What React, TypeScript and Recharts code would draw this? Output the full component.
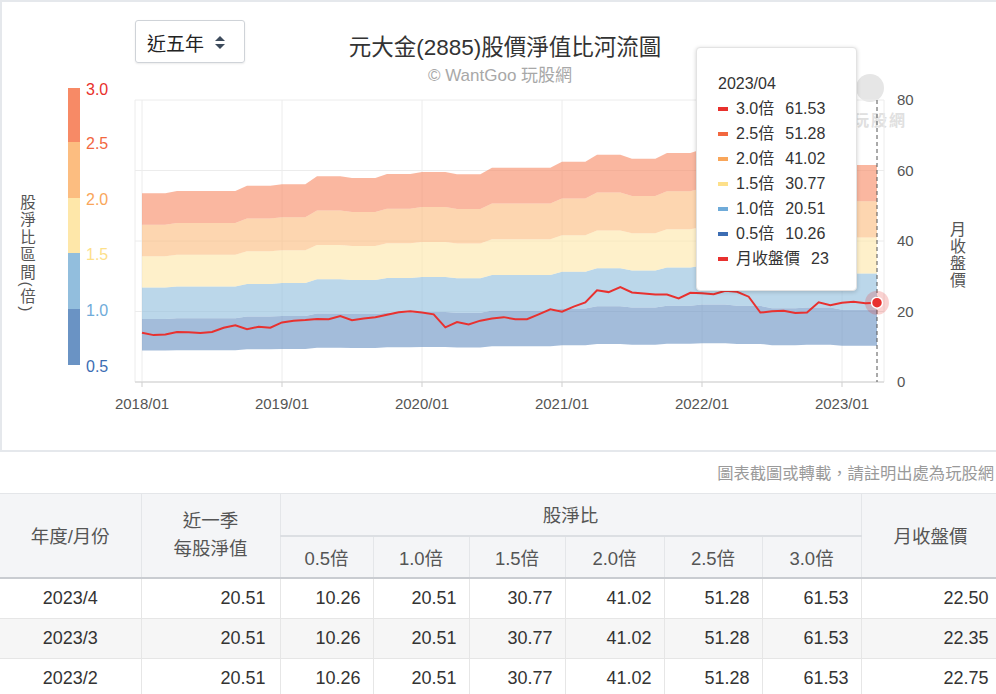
import React from 'react';
import {
  ComposedChart,
  Area,
  Line,
  XAxis,
  YAxis,
  CartesianGrid,
  Tooltip,
} from 'recharts';

// 2018/01 ~ 2023/04, one point per month
const START_YEAR = 2018;
const yearTicks = [0, 12, 24, 36, 48, 60];
const yearLabels = ['2018/01', '2019/01', '2020/01', '2021/01', '2022/01', '2023/01'];
const priceTicks = [0, 20, 40, 60, 80];

// 近一季每股淨值
const bvps = [
  17.85, 17.85, 17.85,
  18.05, 18.05, 18.05, 18.05, 18.05, 18.05,
  18.55, 18.55, 18.55,
  18.7, 18.7, 18.7,
  19.45, 19.45, 19.45,
  19.3, 19.3, 19.3,
  19.67, 19.67, 19.67,
  19.86, 19.86, 19.86,
  19.64, 19.64, 19.64,
  20.26, 20.26, 20.26, 20.26, 20.26, 20.26,
  20.83, 20.83, 20.83,
  21.5, 21.5, 21.5,
  21.1, 21.1, 21.1,
  21.65, 21.65, 21.65,
  22.0, 22.0, 22.0,
  21.6, 21.6, 21.6,
  20.9, 20.9, 20.9,
  21.1, 21.1, 21.1,
  20.51, 20.51, 20.51, 20.51,
];

// 月收盤價
const closePrice = [
  14.0, 13.3, 13.5, 14.2, 14.1, 13.9, 14.2, 15.4, 16.1, 14.95, 15.7, 15.4,
  16.9, 17.4, 17.6, 17.9, 17.8, 18.7, 17.5, 18.0, 18.4, 19.1, 19.8, 20.1,
  19.7, 19.2, 15.5, 17.0, 16.3, 17.4, 18.0, 18.4, 17.8, 17.8, 19.2, 20.6,
  19.95, 21.4, 22.6, 26.0, 25.5, 26.9, 25.4, 25.1, 24.8, 24.8, 23.7, 25.3,
  25.2, 24.9, 25.9, 25.6, 24.2, 19.7, 20.05, 20.2, 19.6, 19.7, 22.6, 21.75,
  22.5, 22.75, 22.35, 22.5,
];

const multiples = [0.5, 1.0, 1.5, 2.0, 2.5, 3.0];
// band fills, low -> high
const bandColors = ['#6a93c4', '#92bedd', '#fee7a9', '#fcbd80', '#f78a66'];
// legend label / tooltip marker colours for 0.5 .. 3.0
const multColors = ['#3c6db3', '#6fabd9', '#fde08a', '#f9a65a', '#f2673f', '#e8302c'];
const PRICE_COLOR = '#e8312f';

const FONT = '"Liberation Sans", "Noto Sans CJK TC", sans-serif';

const monthLabel = (i: number) =>
  `${START_YEAR + Math.floor(i / 12)}/${String((i % 12) + 1).padStart(2, '0')}`;

const fmt2 = (v: number) => (Math.round(v * 100 + 1e-6) / 100).toFixed(2);

const chartData = bvps.map((b, i) => ({
  m: i,
  month: monthLabel(i),
  bvps: b,
  base: b * 0.5,
  s1: b * 0.5,
  s2: b * 0.5,
  s3: b * 0.5,
  s4: b * 0.5,
  s5: b * 0.5,
  price: closePrice[i],
}));

const LAST = chartData.length - 1;

const RiverTooltip = ({ active, payload }: any) => {
  if (!active || !payload || !payload.length) return null;
  const d = payload[0].payload;
  const rows = [...multiples].reverse().map((k, idx) => ({
    label: `${k.toFixed(1)}倍`,
    value: fmt2(d.bvps * k),
    color: multColors[multiples.length - 1 - idx],
  }));
  return (
    <div
      style={{
        width: 138,
        height: 219,
        padding: '23px 0 0 21px',
        background: '#fff',
        border: '1px solid #e3e3e3',
        borderRadius: 4,
        boxShadow: '0 1px 4px rgba(0,0,0,0.18)',
        fontFamily: FONT,
        fontSize: 16,
        lineHeight: '25px',
        color: '#333',
      }}
    >
      <div>{d.month}</div>
      {rows.map((r) => (
        <div key={r.label} style={{ display: 'flex', alignItems: 'center' }}>
          <span style={{ width: 10, height: 4, background: r.color, marginRight: 8 }} />
          <span>{r.label}</span>
          <span style={{ marginLeft: 11 }}>{r.value}</span>
        </div>
      ))}
      <div style={{ display: 'flex', alignItems: 'center' }}>
        <span style={{ width: 10, height: 4, background: PRICE_COLOR, marginRight: 8 }} />
        <span>月收盤價</span>
        <span style={{ marginLeft: 11 }}>{Math.round(d.price)}</span>
      </div>
    </div>
  );
};

const ActiveDot = (props: any) => {
  const { cx, cy } = props;
  if (cx == null || cy == null) return null;
  return (
    <g>
      <circle cx={cx} cy={cy} r={12} fill={PRICE_COLOR} fillOpacity={0.22} />
      <circle cx={cx} cy={cy} r={5.5} fill={PRICE_COLOR} stroke="#fff" strokeWidth={1.5} />
    </g>
  );
};

const legendStops = [3.0, 2.5, 2.0, 1.5, 1.0, 0.5];
const legendY = [91, 145, 201, 256, 312, 368];

const cellBorder = '1px solid #e6e6e6';

export default function App() {
  const tableRows = [LAST, LAST - 1, LAST - 2].map((i) => ({
    label: `${START_YEAR + Math.floor(i / 12)}/${(i % 12) + 1}`,
    bvps: bvps[i],
    close: closePrice[i],
  }));

  const th: React.CSSProperties = {
    background: '#f4f5f7',
    color: '#555',
    fontWeight: 'normal',
    fontSize: 18.5,
    borderLeft: '1px solid #e4e6e9',
    borderRight: '1px solid #e4e6e9',
    padding: 0,
  };
  const td: React.CSSProperties = {
    borderRight: cellBorder,
    borderBottom: cellBorder,
    color: '#333',
    textAlign: 'right',
    padding: '0 12px 0 0',
  };

  return (
    <div
      style={{
        position: 'absolute',
        left: 0,
        top: 0,
        width: 996,
        height: 694,
        overflow: 'hidden',
        background: '#fff',
        fontFamily: FONT,
      }}
    >
      {/* card */}
      <div
        style={{
          position: 'absolute',
          left: 0,
          top: 0,
          width: 1000,
          height: 448,
          border: '2px solid #e5e8ec',
        }}
      />

      {/* watermark */}
      <div style={{ position: 'absolute', left: 856, top: 74, width: 28, height: 28, borderRadius: 14, background: '#e6e6e6' }} />
      <div style={{ position: 'absolute', left: 853, top: 107, fontSize: 16, fontWeight: 'bold', color: '#e0e0e0', letterSpacing: 2 }}>
        玩股網
      </div>

      {/* dropdown */}
      <div
        style={{
          position: 'absolute',
          left: 135,
          top: 20,
          width: 108,
          height: 41,
          border: '1.5px solid #cfd3d8',
          borderRadius: 3,
          boxShadow: '0 1px 2px rgba(0,0,0,0.08)',
        }}
      >
        <span style={{ position: 'absolute', left: 11, top: 8, fontSize: 19, color: '#222' }}>近五年</span>
        <svg style={{ position: 'absolute', left: 78, top: 14 }} width={12} height={16}>
          <polygon points="1,6 11,6 6,1" fill="#3d4b5c" />
          <polygon points="1,9 11,9 6,14" fill="#3d4b5c" />
        </svg>
      </div>

      {/* title */}
      <div style={{ position: 'absolute', left: 305, width: 400, top: 29, textAlign: 'center', fontSize: 22.5, color: '#333' }}>
        元大金(2885)股價淨值比河流圖
      </div>
      <div style={{ position: 'absolute', left: 300, width: 400, top: 61, textAlign: 'center', fontSize: 17, color: '#a8a8a8' }}>
        © WantGoo 玩股網
      </div>

      {/* colour legend on the left */}
      {bandColors.map((c, i) => (
        <div
          key={c}
          style={{
            position: 'absolute',
            left: 68,
            width: 12,
            top: legendY[5 - i - 1] - 3,
            height: legendY[5 - i] - legendY[5 - i - 1],
            background: c,
          }}
        />
      ))}
      {legendStops.map((s, i) => (
        <div
          key={s}
          style={{
            position: 'absolute',
            left: 86,
            top: legendY[i] - 10,
            fontSize: 16,
            color: multColors[multiples.indexOf(s)],
          }}
        >
          {s.toFixed(1)}
        </div>
      ))}
      <div
        style={{
          position: 'absolute',
          left: 15,
          top: 194,
          writingMode: 'vertical-rl',
          fontSize: 15.5,
          letterSpacing: 2,
          color: '#555',
        }}
      >
        股淨比區間(倍)
      </div>
      <div
        style={{
          position: 'absolute',
          left: 944,
          top: 221,
          writingMode: 'vertical-rl',
          fontSize: 16,
          letterSpacing: 1,
          color: '#555',
        }}
      >
        月收盤價
      </div>

      {/* chart */}
      <div style={{ position: 'absolute', left: 0, top: 0 }}>
        <ComposedChart
          width={996}
          height={450}
          data={chartData}
          margin={{ top: 100, right: 72, left: 135, bottom: 38 }}
        >
          <CartesianGrid stroke="#ececec" />
          <XAxis
            dataKey="m"
            type="number"
            domain={[-0.6, 63.6]}
            ticks={yearTicks}
            tickFormatter={(v: number) => yearLabels[yearTicks.indexOf(v)]}
            height={30}
            tickSize={5}
            tickMargin={11}
            axisLine={{ stroke: '#cfcfcf' }}
            tickLine={{ stroke: '#cfcfcf' }}
            tick={{ fill: '#555', fontSize: 15, fontFamily: FONT }}
          />
          <YAxis
            orientation="right"
            domain={[0, 80]}
            ticks={priceTicks}
            width={40}
            axisLine={false}
            tickLine={false}
            tickMargin={7}
            tick={{ fill: '#555', fontSize: 15, fontFamily: FONT }}
          />
          <Tooltip
            active
            defaultIndex={LAST}
            position={{ x: 696, y: 47 }}
            content={<RiverTooltip />}
            cursor={{ stroke: '#555', strokeDasharray: '4 3', strokeWidth: 1 }}
            isAnimationActive={false}
            wrapperStyle={{ zIndex: 5 }}
          />
          <Area type="linear" dataKey="base" stackId="band" stroke="none" fill="none" activeDot={false} isAnimationActive={false} />
          {['s1', 's2', 's3', 's4', 's5'].map((k, i) => (
            <Area
              key={k}
              type="linear"
              dataKey={k}
              stackId="band"
              stroke="none"
              fill={bandColors[i]}
              fillOpacity={0.62}
              activeDot={false}
              isAnimationActive={false}
            />
          ))}
          <Line
            type="linear"
            dataKey="price"
            stroke={PRICE_COLOR}
            strokeWidth={2}
            dot={false}
            activeDot={<ActiveDot />}
            isAnimationActive={false}
          />
        </ComposedChart>
      </div>

      {/* note */}
      <div style={{ position: 'absolute', right: 2, top: 460, fontSize: 16.3, color: '#9a9a9a', whiteSpace: 'nowrap' }}>
        圖表截圖或轉載，請註明出處為玩股網
      </div>

      {/* table */}
      <table
        style={{
          position: 'absolute',
          left: 0,
          top: 493,
          width: 1000,
          borderCollapse: 'collapse',
          tableLayout: 'fixed',
          fontSize: 18,
          fontFamily: FONT,
        }}
      >
        <colgroup>
          {[141, 139, 93, 96, 96, 99, 98, 99, 139].map((w, i) => (
            <col key={i} style={{ width: w }} />
          ))}
        </colgroup>
        <thead>
          <tr style={{ height: 42, borderTop: '1px solid #e4e6e9' }}>
            <th rowSpan={2} style={{ ...th, borderLeft: 'none', borderBottom: '2px solid #c9ccd1' }}>年度/月份</th>
            <th rowSpan={2} style={{ ...th, lineHeight: '28px', borderBottom: '2px solid #c9ccd1' }}>
              近一季
              <br />
              每股淨值
            </th>
            <th colSpan={6} style={{ ...th, borderBottom: '2px solid #dcdfe3' }}>股淨比</th>
            <th rowSpan={2} style={{ ...th, borderBottom: '2px solid #c9ccd1' }}>月收盤價</th>
          </tr>
          <tr style={{ height: 42 }}>
            {multiples.map((k) => (
              <th key={k} style={{ ...th, borderBottom: '2px solid #c9ccd1' }}>
                {k.toFixed(1)}倍
              </th>
            ))}
          </tr>
        </thead>
        <tbody>
          {tableRows.map((r, ri) => (
            <tr key={r.label} style={{ height: 40.5, background: ri === 1 ? '#f6f6f6' : '#fff' }}>
              <td style={{ ...td, textAlign: 'center', padding: 0 }}>{r.label}</td>
              <td style={{ ...td, paddingRight: 14 }}>{r.bvps.toFixed(2)}</td>
              {multiples.map((k) => (
                <td key={k} style={td}>
                  {fmt2(r.bvps * k)}
                </td>
              ))}
              <td style={{ ...td, paddingRight: 11 }}>{r.close.toFixed(2)}</td>
            </tr>
          ))}
        </tbody>
      </table>
    </div>
  );
}
